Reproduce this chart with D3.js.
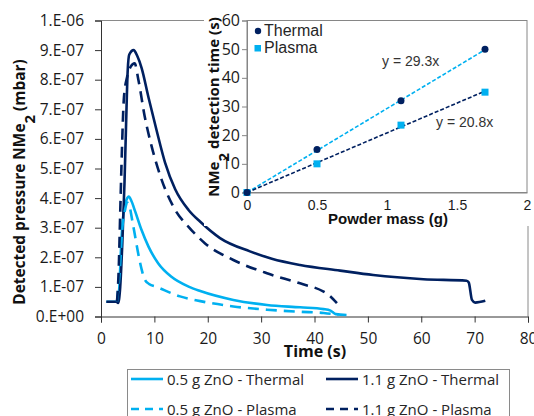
<!DOCTYPE html>
<html>
<head>
<meta charset="utf-8">
<script src="https://cdn.jsdelivr.net/npm/d3@7"></script>
<style>
  body { margin: 0; background: #fff; }
  svg { display: block; }
  .tick text { fill: #1a1a1a; }
</style>
</head>
<body>
<svg id="chart" width="534" height="416"></svg>
<script>
// pressure curves, values in units of 1e-7 mbar
var thermal05 = [[1.0,0.5],[3.0,0.5],[3.4,0.9],[3.8,2.5],[4.3,3.6],[4.8,3.95],[5.2,4.05],[5.7,3.9],[6.4,3.55],[7.6,2.92],[8.9,2.36],[10.7,1.8],[13.2,1.34],[16.4,1.01],[18.6,0.86],[24.8,0.56],[31.1,0.39],[37.3,0.31],[41.7,0.25],[43.0,0.2],[44.0,0.08],[46.0,0.05]];
var thermal11 = [[1.0,0.5],[2.9,0.5],[3.2,0.46],[3.4,0.6],[3.6,1.0],[4.0,2.5],[4.4,4.5],[4.7,6.5],[5.0,8.3],[5.3,8.85],[6.1,9.0],[6.8,8.8],[7.6,8.4],[8.9,7.4],[10.4,6.3],[12.0,5.2],[13.9,4.3],[16.4,3.6],[18.6,3.2],[22.3,2.65],[27.9,2.2],[32.0,1.95],[37.3,1.74],[44.8,1.55],[51.0,1.4],[60.4,1.26],[68.5,1.21],[68.9,1.15],[69.5,0.56],[70.1,0.47],[72.0,0.53]];
var plasma05 = [[3.0,0.5],[3.5,1.5],[4.0,3.0],[4.5,3.6],[4.9,3.85],[5.3,3.75],[5.9,3.2],[6.4,2.7],[7.0,2.1],[7.6,1.6],[8.2,1.25],[9.0,1.1],[10.4,1.0],[14.8,0.68],[18.6,0.52],[24.8,0.34],[31.1,0.23],[37.3,0.16],[41.7,0.12],[43.5,0.08],[44.5,0.05]];
var plasma11 = [[3.0,0.5],[3.3,1.5],[3.6,3.5],[3.9,5.5],[4.3,7.4],[4.9,8.1],[5.6,8.45],[6.3,8.55],[7.0,8.0],[8.2,6.75],[9.5,5.74],[11.4,4.6],[13.9,3.6],[16.4,3.03],[19.5,2.47],[24.8,1.91],[31.1,1.46],[37.3,1.12],[41.7,0.84],[42.5,0.75],[44.2,0.45]];

var seriesNames = ["0.5 g ZnO - Thermal", "1.1 g ZnO - Thermal", "0.5 g ZnO - Plasma", "1.1 g ZnO - Plasma"];

// inset: detection time vs powder mass
var massValues = [0, 0.5, 1.1, 1.7];
var thermalTimes = [0, 15, 32, 50];
var plasmaTimes = [0, 10, 23.5, 35];
var trendSlopes = [29.3, 20.8];

var light = "#00b0f0", navy = "#002060";
var svg = d3.select("#chart");

// ---------- main chart ----------
var x = d3.scaleLinear().domain([0, 80]).range([101, 528]);
var y = d3.scaleLinear().domain([0, 10]).range([316.5, 20.5]);

function sciFmt(v) {
  if (v == 0) return "0.E+00";
  var val = v * 1e-7;
  var e = Math.floor(Math.log10(val) + 1e-9);
  var m = Math.round(val / Math.pow(10, e));
  return m + ".E" + (e < 0 ? "-" : "+") + String(Math.abs(e)).padStart(2, "0");
}

// frame top/right
svg.append("line").attr("x1", x(0)).attr("x2", x(80)).attr("y1", y(10)).attr("y2", y(10)).attr("stroke", "#8a8a8a");
svg.append("line").attr("x1", x(80)).attr("x2", x(80)).attr("y1", y(10)).attr("y2", y(0)).attr("stroke", "#8a8a8a");

var yAxis = svg.append("g").attr("transform", "translate(" + x(0) + ",0)")
  .call(d3.axisLeft(y).tickValues(d3.range(0, 11)).tickFormat(sciFmt).tickSize(6).tickPadding(11));
var xAxis = svg.append("g").attr("transform", "translate(0," + y(0) + ")")
  .call(d3.axisBottom(x).tickValues(d3.range(0, 90, 10)).tickSize(6).tickPadding(10));
[yAxis, xAxis].forEach(function(a) {
  a.selectAll("path, line").attr("stroke", "#333");
  a.selectAll("text").style("font-family", "'Open Sans'").style("font-size", "15.5px");
});

var line = d3.line().x(function(d) { return x(d[0]); }).y(function(d) { return y(d[1]); }).curve(d3.curveMonotoneX);

var curves = [
  {data: thermal05, color: light, dash: null},
  {data: thermal11, color: navy, dash: null},
  {data: plasma05, color: light, dash: "11,7"},
  {data: plasma11, color: navy, dash: "11,7"}
];
curves.forEach(function(c) {
  svg.append("path").datum(c.data)
    .attr("d", line)
    .attr("fill", "none")
    .attr("stroke", c.color)
    .attr("stroke-width", 2.6)
    .attr("stroke-linejoin", "round")
    .attr("stroke-dasharray", c.dash);
});

// axis titles
var yt = svg.append("text")
  .attr("transform", "translate(25,182) rotate(-90)")
  .attr("text-anchor", "middle")
  .style("font-family", "'Open Sans'").style("font-weight", "bold").style("font-size", "15.4px").attr("fill", "#111");
yt.append("tspan").text("Detected pressure NMe");
yt.append("tspan").attr("baseline-shift", "sub").style("font-size", "15px").text("2");
yt.append("tspan").text(" (mbar)");

svg.append("text").attr("x", 315).attr("y", 357).attr("text-anchor", "middle")
  .style("font-family", "'Open Sans'").style("font-weight", "bold").style("font-size", "16px").attr("fill", "#111")
  .text("Time (s)");

// ---------- legend ----------
var lg = svg.append("g");
lg.append("rect").attr("x", 127.5).attr("y", 369.5).attr("width", 382).attr("height", 70)
  .attr("fill", "#fff").attr("stroke", "#8a8a8a");
var legendPos = [[131, 379], [326, 379], [131, 409], [326, 409]];
seriesNames.forEach(function(name, i) {
  var p = legendPos[i];
  lg.append("line").attr("x1", p[0]).attr("x2", p[0] + 32).attr("y1", p[1]).attr("y2", p[1])
    .attr("stroke", curves[i].color).attr("stroke-width", 2.6)
    .attr("stroke-dasharray", curves[i].dash ? "8,6" : null);
  lg.append("text").attr("x", p[0] + 36).attr("y", p[1] + 5.5)
    .style("font-family", "'Open Sans'").style("font-size", "15px").attr("fill", "#262626")
    .text(name);
});

// ---------- inset ----------
var inset = svg.append("g");
inset.append("rect").attr("x", 204).attr("y", 0).attr("width", 330).attr("height", 226).attr("fill", "#fff");

var ix = d3.scaleLinear().domain([0, 2]).range([247, 527]);
var iy = d3.scaleLinear().domain([0, 60]).range([192.5, 20.5]);

inset.append("rect").attr("x", ix(0)).attr("y", iy(60)).attr("width", ix(2) - ix(0)).attr("height", iy(0) - iy(60))
  .attr("fill", "none").attr("stroke", "#868686");

var iyAxis = inset.append("g").attr("transform", "translate(" + ix(0) + ",0)")
  .call(d3.axisLeft(iy).tickValues(d3.range(0, 70, 10)).tickSize(5).tickPadding(2));
iyAxis.selectAll("path, line").attr("stroke", "#868686");
iyAxis.selectAll("text").style("font-family", "'Open Sans'").style("font-size", "16px");

var ixAxis = inset.append("g").attr("transform", "translate(0," + iy(0) + ")")
  .call(d3.axisBottom(ix).tickValues([0, 0.5, 1, 1.5, 2]).tickFormat(d3.format("")).tickSize(0).tickPadding(8));
ixAxis.select("path").attr("stroke", "#868686");
ixAxis.selectAll("text").style("font-family", "'Liberation Sans'").style("font-size", "14px").attr("fill", "#404040");

// trendlines
var trendColors = [light, navy];
trendSlopes.forEach(function(k, i) {
  inset.append("line")
    .attr("x1", ix(0)).attr("y1", iy(0))
    .attr("x2", ix(1.7)).attr("y2", iy(k * 1.7))
    .attr("stroke", trendColors[i]).attr("stroke-width", 1.6).attr("stroke-dasharray", "4,2");
});
inset.append("text").attr("x", 382).attr("y", 66)
  .style("font-family", "'Liberation Sans'").style("font-size", "14px").attr("fill", "#333")
  .text("y = " + trendSlopes[0] + "x");
inset.append("text").attr("x", 436).attr("y", 127)
  .style("font-family", "'Liberation Sans'").style("font-size", "14px").attr("fill", "#333")
  .text("y = " + trendSlopes[1] + "x");

// markers
inset.selectAll(".pl").data(massValues).enter().append("rect")
  .attr("x", function(d) { return ix(d) - 3.5; })
  .attr("y", function(d, i) { return iy(plasmaTimes[i]) - 3.5; })
  .attr("width", 7).attr("height", 7).attr("fill", light);
inset.selectAll(".th").data(massValues).enter().append("circle")
  .attr("cx", function(d) { return ix(d); })
  .attr("cy", function(d, i) { return iy(thermalTimes[i]); })
  .attr("r", 3.5).attr("fill", navy);

// inset titles
var iyt = inset.append("text")
  .attr("transform", "translate(219,107) rotate(-90)")
  .attr("text-anchor", "middle")
  .style("font-family", "'Open Sans'").style("font-weight", "bold").style("font-size", "15px").attr("fill", "#111");
iyt.append("tspan").text("NMe");
iyt.append("tspan").attr("baseline-shift", "sub").text("2");
iyt.append("tspan").text(" detection time (s)");

inset.append("text").attr("x", 388).attr("y", 224).attr("text-anchor", "middle")
  .style("font-family", "'Liberation Sans'").style("font-weight", "bold").style("font-size", "15px").attr("fill", "#111")
  .text("Powder mass (g)");

// inset legend
inset.append("circle").attr("cx", 258).attr("cy", 31).attr("r", 3.2).attr("fill", navy);
inset.append("text").attr("x", 264).attr("y", 36)
  .style("font-family", "'Liberation Sans'").style("font-size", "16px").attr("fill", "#262626").text("Thermal");
inset.append("rect").attr("x", 254.5).attr("y", 45).attr("width", 6.5).attr("height", 6.5).attr("fill", light);
inset.append("text").attr("x", 264).attr("y", 53)
  .style("font-family", "'Liberation Sans'").style("font-size", "16px").attr("fill", "#262626").text("Plasma");
</script>
</body>
</html>
